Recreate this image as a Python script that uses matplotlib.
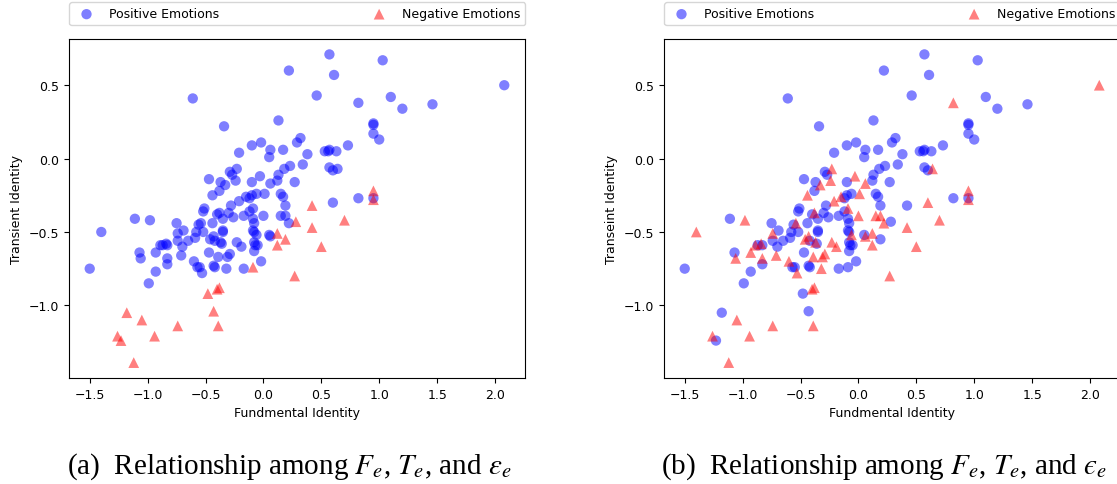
# Fundamental vs transient identity, coloured by emotion sign (two labelings)

import numpy as np
import matplotlib.pyplot as plt

plt.rcParams['mathtext.fontset'] = 'stix'

# one row per event: fundamental identity, transient identity
fundamental = [
    -0.61, 0.22, -0.34, 0.13, -0.10, -0.02, -0.21, 0.06, 0.05, 0.17,
    0.29, 0.32, 0.23, 0.18, 0.27, 0.13, 0.12, 0.06, -0.03, -0.10,
    -0.23, -0.27, -0.29, -0.24, -0.47, -0.37, -0.33, -0.38, -0.44, -0.21,
    -0.15, -0.12, -0.06, 0.01, -0.10, 0.15, 0.17, 0.19, -0.28, -0.51,
    -0.52, -0.09, -0.12, 0.57, 1.03, 0.61, 0.46, 0.82, 1.10, 1.20,
    1.46, 2.08, 0.95, 0.95, 0.95, 1.00, 0.38, 0.53, 0.57, 0.56,
    0.63, 0.73, 0.34, 0.57, 0.60, 0.64, 0.60, 0.82, 0.95, 0.95,
    0.95, 0.42, -1.50, -1.40, -1.11, -0.98, -1.07, -1.06, -0.99, -0.93,
    -0.93, -0.89, -0.84, -0.83, -0.87, -0.83, -0.83, -0.75, -0.74, -0.74,
    -0.69, -0.65, -0.70, -0.71, -0.60, -0.57, -0.55, -0.53, -0.59, -0.58,
    -0.56, -0.54, -0.52, -0.47, -0.46, -0.43, -0.42, -0.37, -0.36, -0.44,
    -0.40, -0.38, -0.35, -0.35, -0.35, -0.43, -0.42, -0.39, -0.32, -0.31,
    -0.29, -0.30, -0.26, -0.23, -0.19, -0.17, -0.17, -0.09, -0.08, -0.09,
    -0.08, -0.06, -0.08, -0.07, -0.05, -0.08, -0.09, -0.02, 0.00, 0.05,
    0.06, 0.15, 0.19, 0.22, 0.12, 0.19, 0.12, 0.28, 0.27, -0.48,
    -0.40, -0.38, -0.43, -0.39, -0.74, -1.18, -1.05, -0.94, -1.26, -1.23,
    -1.12, 0.70, 0.42, 0.50,
]
transient = [
    0.41, 0.60, 0.22, 0.26, 0.09, 0.11, 0.04, 0.06, 0.01, 0.06,
    0.11, 0.14, -0.05, -0.07, -0.16, -0.11, -0.15, -0.17, -0.12, -0.16,
    -0.07, -0.11, -0.09, -0.15, -0.14, -0.16, -0.18, -0.22, -0.25, -0.29,
    -0.26, -0.27, -0.24, -0.24, -0.25, -0.24, -0.26, -0.32, -0.32, -0.34,
    -0.36, -0.34, -0.36, 0.71, 0.67, 0.57, 0.43, 0.38, 0.42, 0.34,
    0.37, 0.50, 0.24, 0.23, 0.17, 0.13, 0.03, 0.05, 0.06, 0.05,
    0.05, 0.09, -0.04, -0.06, -0.08, -0.07, -0.30, -0.27, -0.27, -0.22,
    -0.28, -0.32, -0.75, -0.50, -0.41, -0.42, -0.64, -0.68, -0.85, -0.77,
    -0.64, -0.59, -0.58, -0.59, -0.59, -0.68, -0.72, -0.44, -0.51, -0.56,
    -0.49, -0.56, -0.60, -0.66, -0.70, -0.74, -0.74, -0.78, -0.54, -0.50,
    -0.45, -0.44, -0.50, -0.64, -0.55, -0.53, -0.56, -0.57, -0.58, -0.44,
    -0.38, -0.37, -0.41, -0.49, -0.50, -0.73, -0.74, -0.67, -0.75, -0.67,
    -0.65, -0.37, -0.40, -0.57, -0.60, -0.75, -0.39, -0.41, -0.44, -0.49,
    -0.50, -0.52, -0.57, -0.59, -0.59, -0.63, -0.74, -0.70, -0.39, -0.52,
    -0.53, -0.39, -0.39, -0.44, -0.51, -0.55, -0.59, -0.43, -0.80, -0.92,
    -0.89, -0.88, -1.04, -1.14, -1.14, -1.05, -1.10, -1.21, -1.21, -1.24,
    -1.39, -0.42, -0.47, -0.60,
]
# 1 = negative emotion under labeling (a) / labeling (b)
negative_a = [
    0, 0, 0, 0, 0, 0, 0, 0, 0, 0,
    0, 0, 0, 0, 0, 0, 0, 0, 0, 0,
    0, 0, 0, 0, 0, 0, 0, 0, 0, 0,
    0, 0, 0, 0, 0, 0, 0, 0, 0, 0,
    0, 0, 0, 0, 0, 0, 0, 0, 0, 0,
    0, 0, 0, 0, 0, 0, 0, 0, 0, 0,
    0, 0, 0, 0, 0, 0, 0, 0, 0, 1,
    1, 1, 0, 0, 0, 0, 0, 0, 0, 0,
    0, 0, 0, 0, 0, 0, 0, 0, 0, 0,
    0, 0, 0, 0, 0, 0, 0, 0, 0, 0,
    0, 0, 0, 0, 0, 0, 0, 0, 0, 0,
    0, 0, 0, 0, 0, 0, 0, 0, 0, 0,
    0, 0, 0, 0, 0, 0, 0, 0, 0, 0,
    0, 0, 0, 0, 0, 0, 1, 0, 0, 0,
    0, 0, 0, 0, 1, 1, 1, 1, 1, 1,
    1, 1, 1, 1, 1, 1, 1, 1, 1, 1,
    1, 1, 1, 1,
]
negative_b = [
    0, 0, 0, 0, 0, 0, 0, 0, 0, 0,
    0, 0, 0, 0, 0, 0, 0, 1, 1, 0,
    1, 0, 0, 1, 0, 0, 1, 0, 1, 1,
    1, 0, 0, 1, 0, 0, 0, 0, 0, 0,
    0, 1, 0, 0, 0, 0, 0, 1, 0, 0,
    0, 1, 0, 0, 0, 0, 0, 0, 0, 0,
    0, 0, 0, 0, 0, 1, 1, 0, 0, 1,
    1, 0, 0, 1, 0, 1, 0, 1, 0, 0,
    1, 1, 1, 0, 0, 1, 0, 0, 1, 0,
    0, 0, 0, 1, 1, 0, 0, 1, 0, 0,
    0, 1, 0, 0, 1, 1, 0, 1, 0, 0,
    0, 1, 0, 0, 0, 0, 0, 1, 1, 1,
    1, 0, 0, 1, 1, 0, 0, 0, 0, 0,
    0, 1, 0, 0, 0, 0, 0, 0, 1, 0,
    1, 1, 1, 1, 1, 0, 1, 0, 1, 0,
    1, 1, 0, 1, 1, 0, 1, 1, 1, 0,
    1, 1, 1, 1,
]

F = np.array(fundamental)
T = np.array(transient)

W, H = 1117, 485
fig = plt.figure(figsize=(W / 100, H / 100), dpi=100)
ax_a = fig.add_axes([69 / W, 106 / H, 456 / W, 339 / H])
ax_b = fig.add_axes([664 / W, 106 / H, 456 / W, 339 / H])


def draw(ax, neg, ylabel):
    neg = np.array(neg, dtype=bool)
    ax.scatter(F[~neg], T[~neg], s=55, c='b', alpha=0.5, edgecolors='none',
               marker='o', label='Positive Emotions')
    ax.scatter(F[neg], T[neg], s=60, c='r', alpha=0.5, edgecolors='none',
               marker='^', label='Negative Emotions')
    ax.set_xlabel('Fundmental Identity', fontsize=9)
    ax.set_ylabel(ylabel, fontsize=9)
    ax.tick_params(labelsize=9)
    ax.legend(bbox_to_anchor=(0, 1.04, 1, 0.07), loc='lower left', ncol=2,
              mode='expand', borderaxespad=0, fontsize=9, scatterpoints=1)


draw(ax_a, negative_a, 'Transient Identity')
draw(ax_b, negative_b, 'Transeint Identity')

# (a) uses the curly epsilon, (b) the lunate one
fig.text(289 / W, 18 / H, '(a)  Relationship among $F_e$, $T_e$, and $\u03b5_e$',
         ha='center', va='center', fontsize=21, family='Liberation Serif')
fig.text(884 / W, 18 / H, '(b)  Relationship among $F_e$, $T_e$, and $\u03f5_e$',
         ha='center', va='center', fontsize=21, family='Liberation Serif')

fig.savefig('out.png', dpi=100)
